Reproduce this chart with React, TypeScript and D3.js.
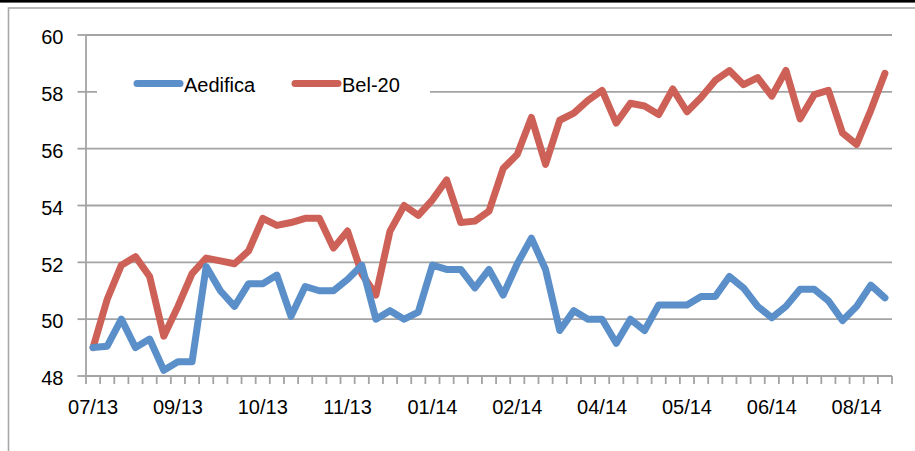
import React from "react";
import * as d3 from "d3";

const seriesNames = ["Aedifica", "Bel-20"];
const aedifica = [49.0, 49.05, 50.0, 49.0, 49.3, 48.2, 48.5, 48.5, 51.85, 51.0, 50.45, 51.25, 51.25, 51.55, 50.1, 51.15, 51.0, 51.0, 51.4, 51.9, 50.0, 50.3, 50.0, 50.25, 51.9, 51.75, 51.75, 51.1, 51.75, 50.85, 51.95, 52.85, 51.75, 49.6, 50.3, 50.0, 50.0, 49.15, 50.0, 49.6, 50.5, 50.5, 50.5, 50.8, 50.8, 51.5, 51.1, 50.45, 50.05, 50.45, 51.05, 51.05, 50.65, 49.95, 50.45, 51.2, 50.75];
const bel20 = [49.0, 50.7, 51.9, 52.2, 51.5, 49.4, 50.45, 51.6, 52.15, 52.05, 51.95, 52.4, 53.55, 53.3, 53.4, 53.55, 53.55, 52.5, 53.1, 51.6, 50.85, 53.1, 54.0, 53.65, 54.2, 54.9, 53.4, 53.45, 53.8, 55.3, 55.8, 57.1, 55.45, 57.0, 57.25, 57.7, 58.05, 56.9, 57.6, 57.5, 57.2, 58.1, 57.3, 57.8, 58.4, 58.75, 58.25, 58.5, 57.85, 58.75, 57.05, 57.9, 58.05, 56.55, 56.15, 57.35, 58.65];
const xTickLabels = ["07/13", "09/13", "10/13", "11/13", "01/14", "02/14", "04/14", "05/14", "06/14", "08/14"];
const labelEvery = 6;
const yTicks = [48, 50, 52, 54, 56, 58, 60];

const W = 915;
const H = 451;
const FONT = "'Liberation Sans', Arial, sans-serif";
const BLUE = "#5B8FC9";
const RED = "#CD6157";
const GRID = "#A3A3A3";

export default function App() {
  const n = aedifica.length;
  const x = d3.scaleBand<number>().domain(d3.range(n)).range([86, 892]).paddingInner(0).paddingOuter(0);
  const y = d3.scaleLinear().domain([48, 60]).range([376, 35]);
  const bw = x.bandwidth();
  const cx = (i: number) => (x(i) as number) + bw / 2;
  const line = d3.line<number>().x((_, i) => cx(i)).y((d) => y(d));

  const tickXs = d3.range(n + 1).map((i) => 86 + i * bw);

  return (
    <svg width={W} height={H} style={{ position: "absolute", left: 0, top: 0 }} fontFamily={FONT}>
      <rect x={0} y={0} width={W} height={H} fill="#fff" />
      <rect x={0} y={0} width={W} height={2.6} fill="#000" />
      <rect x={8.5} y={8} width={W + 20} height={H + 20} fill="none" stroke="#A8A8A8" strokeWidth={1.6} />

      {yTicks.map((t) => (
        <line key={"g" + t} x1={86} x2={892} y1={y(t)} y2={y(t)} stroke={GRID} strokeWidth={1.8} />
      ))}
      {yTicks.map((t) => (
        <line key={"yt" + t} x1={77.5} x2={86} y1={y(t)} y2={y(t)} stroke={GRID} strokeWidth={1.8} />
      ))}
      {yTicks.map((t) => (
        <text key={"yl" + t} x={63.5} y={y(t) + 9.3} textAnchor="end" fontSize={20} fill="#000">
          {t}
        </text>
      ))}

      <line x1={86} x2={86} y1={y(60)} y2={y(48)} stroke={GRID} strokeWidth={1.8} />
      <line x1={86} x2={892} y1={y(48)} y2={y(48)} stroke={GRID} strokeWidth={1.8} />
      {tickXs.map((tx, i) => (
        <line key={"xt" + i} x1={tx} x2={tx} y1={y(48)} y2={y(48) + 8} stroke={GRID} strokeWidth={1.8} />
      ))}
      {xTickLabels.map((lab, k) => (
        <text key={"xl" + k} x={cx(k * labelEvery)} y={414} textAnchor="middle" fontSize={20} fill="#000">
          {lab}
        </text>
      ))}

      <rect x={97} y={58} width={333} height={54} fill="#fff" />
      <line x1={137} x2={180} y1={83.5} y2={83.5} stroke={BLUE} strokeWidth={7} strokeLinecap="round" />
      <text x={184} y={92} fontSize={20} fill="#000">{seriesNames[0]}</text>
      <line x1={295} x2={338} y1={83.5} y2={83.5} stroke={RED} strokeWidth={7} strokeLinecap="round" />
      <text x={342} y={92} fontSize={20} fill="#000">{seriesNames[1]}</text>

      <path d={line(bel20) || ""} fill="none" stroke={RED} strokeWidth={7} strokeLinejoin="round" strokeLinecap="round" />
      <path d={line(aedifica) || ""} fill="none" stroke={BLUE} strokeWidth={7} strokeLinejoin="round" strokeLinecap="round" />
    </svg>
  );
}
